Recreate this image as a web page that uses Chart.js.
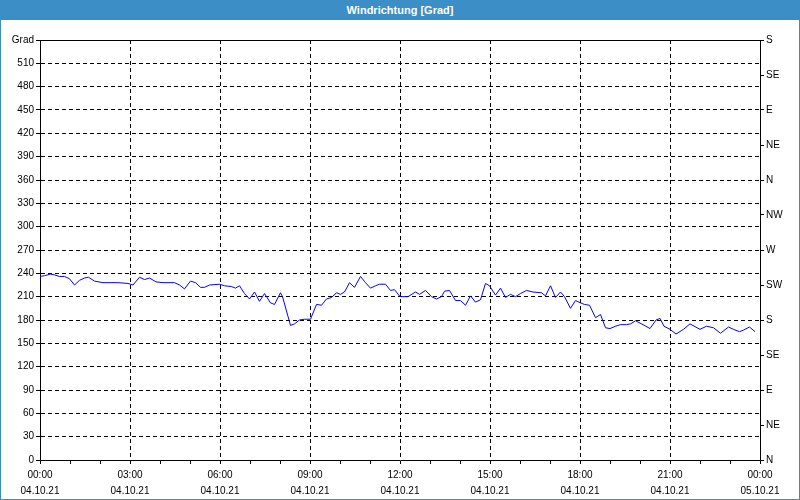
<!DOCTYPE html>
<html>
<head>
<meta charset="utf-8">
<title>Windrichtung</title>
<script src="https://cdn.jsdelivr.net/npm/chart.js@4"></script>
<style>
	html, body { margin: 0; padding: 0; background: #fff; }
	#frame {
		position: absolute; left: 0; top: 0; width: 800px; height: 500px;
		box-sizing: border-box; border: 1px solid #3c8ec6; overflow: hidden;
	}
	#head {
		height: 19px; background: #3c8ec6; color: #fff; text-align: center;
		font: bold 11px "Liberation Sans", Arial, sans-serif; line-height: 18px;
	}
	canvas { display: block; }
</style>
</head>
<body>
<div id="frame">
	<div id="head">Windrichtung [Grad]</div>
	<canvas id="myChart" width="798" height="479"></canvas>
</div>
<script>
	// minutes since 04.10.21 00:00
	const minutes = [0, 9, 21, 29, 39, 49, 59, 69, 79, 89, 97, 109, 126, 156, 176, 186, 199, 209, 219, 232,
		246, 256, 269, 279, 289, 301, 311, 321, 329, 339, 359, 369, 383, 391, 399, 409, 419, 429, 439, 449,
		461, 469, 481, 485, 501, 509, 519, 529, 541, 553, 563, 573, 583, 593, 601, 609, 619, 629, 641, 651,
		661, 671, 679, 691, 701, 709, 719, 723, 736, 751, 759, 771, 783, 793, 803, 809, 819, 831, 841, 851,
		861, 871, 881, 891, 899, 911, 921, 931, 941, 951, 961, 973, 986, 1003, 1011, 1021, 1031, 1041, 1049, 1061,
		1071, 1081, 1089, 1099, 1111, 1121, 1131, 1140, 1151, 1161, 1173, 1181, 1191, 1206, 1220, 1232, 1240, 1248, 1260, 1272,
		1287, 1300, 1320, 1333, 1347, 1361, 1377, 1387, 1399, 1407, 1419, 1430];
	const windDir = [236, 237, 239, 238, 236, 236, 233, 225, 231, 234, 235, 230, 228, 228, 227, 225, 235, 232, 234, 229,
		228, 228, 228, 225, 220, 230, 228, 222, 222, 225, 226, 224, 223, 221, 224, 214, 207, 216, 204, 214,
		202, 200, 215, 210, 173, 175, 180, 181, 181, 200, 199, 207, 209, 215, 213, 216, 228, 222, 236, 228,
		221, 224, 226, 226, 218, 219, 211, 210, 210, 216, 213, 218, 210, 207, 210, 217, 218, 205, 205, 199,
		211, 203, 206, 227, 224, 212, 221, 209, 213, 210, 214, 218, 216, 215, 211, 224, 209, 216, 210, 195,
		205, 202, 200, 199, 183, 187, 170, 169, 172, 174, 174, 175, 179, 174, 169, 180, 182, 172, 168, 162,
		168, 175, 168, 172, 170, 163, 171, 168, 165, 167, 171, 165];

	const timeLabels = ["00:00", "03:00", "06:00", "09:00", "12:00", "15:00", "18:00", "21:00", "00:00"];
	const dateLabels = ["04.10.21", "04.10.21", "04.10.21", "04.10.21", "04.10.21", "04.10.21", "04.10.21", "04.10.21", "05.10.21"];
	const dirLabels = ["N", "NE", "E", "SE", "S", "SW", "W", "NW", "N", "NE", "E", "SE", "S"];

	Chart.defaults.font.family = '"Liberation Sans", Arial, sans-serif';
	Chart.defaults.font.size = 10;
	Chart.defaults.color = '#000';

	const points = minutes.map((m, i) => ({ x: m, y: windDir[i] }));

	// solid top edge of the plot box
	const topEdge = {
		id: 'topEdge',
		afterDraw(chart) {
			const { ctx, chartArea } = chart;
			const y = Math.round(chartArea.top) + 0.5;
			ctx.save();
			ctx.strokeStyle = '#000';
			ctx.lineWidth = 1;
			ctx.beginPath();
			ctx.moveTo(chartArea.left, y);
			ctx.lineTo(chartArea.right, y);
			ctx.stroke();
			ctx.restore();
		}
	};

	const config = {
		type: 'line',
		data: {
			datasets: [{
				label: 'Windrichtung',
				data: points,
				borderColor: '#0000ff',
				backgroundColor: '#0000ff',
				borderWidth: 1,
				pointRadius: 0,
				tension: 0,
				yAxisID: 'y'
			}]
		},
		options: {
			responsive: false,
			animation: false,
			layout: { padding: { top: 20, left: 0, right: 0, bottom: 0 } },
			plugins: {
				legend: { display: false },
				tooltip: { enabled: false },
				title: { display: false }
			},
			scales: {
				x: {
					type: 'linear',
					min: 0,
					max: 1440,
					afterFit: (s) => { s.height = 39; },
					ticks: {
						stepSize: 60,
						autoSkip: false,
						maxRotation: 0,
						padding: 3,
						font: { size: 10, lineHeight: 1.6 },
						callback: (v) => v % 180 === 0 ? [timeLabels[v / 180], dateLabels[v / 180]] : ''
					},
					grid: {
						color: (ctx) => ctx.tick && ctx.tick.value % 180 === 0 && ctx.tick.value > 0 && ctx.tick.value < 1440 ? '#000' : 'transparent',
						tickColor: '#000',
						tickLength: 4,
						tickBorderDash: []
					},
					border: { display: true, color: '#000', dash: [4, 3] }
				},
				y: {
					type: 'linear',
					position: 'left',
					min: 0,
					max: 540,
					afterFit: (s) => { s.width = 39; },
					ticks: {
						stepSize: 30,
						padding: 2,
						callback: (v) => v === 540 ? 'Grad' : v
					},
					grid: {
						color: (ctx) => ctx.tick && ctx.tick.value > 0 && ctx.tick.value < 540 ? '#000' : 'transparent',
						tickColor: '#000',
						tickLength: 4,
						tickBorderDash: []
					},
					border: { display: true, color: '#000', dash: [4, 3] }
				},
				y1: {
					type: 'linear',
					position: 'right',
					min: 0,
					max: 540,
					afterFit: (s) => { s.width = 39; },
					ticks: {
						stepSize: 45,
						padding: 2,
						callback: (v) => dirLabels[Math.round(v / 45)]
					},
					grid: {
						drawOnChartArea: false,
						color: '#000',
						tickLength: 4
					},
					border: { display: true, color: '#000' }
				}
			}
		},
		plugins: [topEdge]
	};

	const myChart = new Chart(document.getElementById('myChart'), config);
</script>
</body>
</html>
